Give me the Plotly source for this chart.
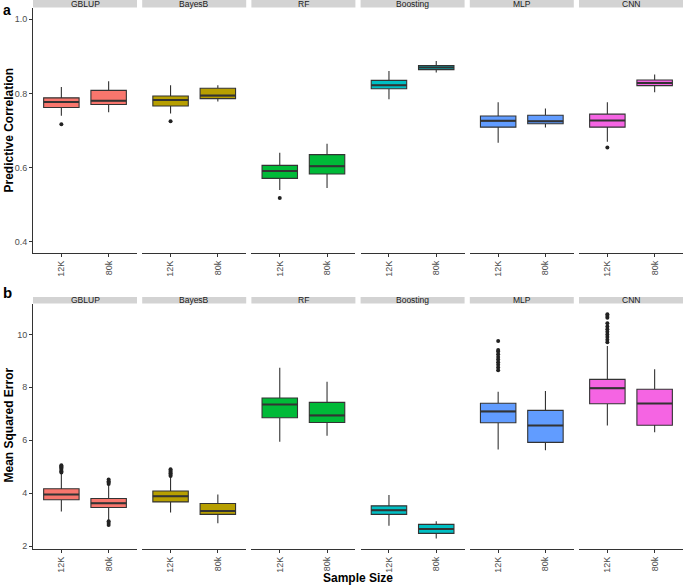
import plotly.graph_objects as go

W, H = 685, 585

methods = ["GBLUP", "BayesB", "RF", "Boosting", "MLP", "CNN"]
colors = ["#F8766D", "#B79F00", "#00BA38", "#00BFC4", "#619CFF", "#F564E3"]
sizes = ["12K", "80k"]

# Panel a: Predictive Correlation  (per method: [12K, 80k])
pc_low = [[0.740, 0.749], [0.746, 0.778], [0.540, 0.545], [0.784, 0.856], [0.667, 0.708], [0.670, 0.803]]
pc_q1 = [[0.762, 0.770], [0.766, 0.786], [0.571, 0.583], [0.8125, 0.864], [0.709, 0.718], [0.709, 0.821]]
pc_med = [[0.777, 0.780], [0.782, 0.794], [0.591, 0.604], [0.822, 0.870], [0.726, 0.725], [0.727, 0.828]]
pc_q3 = [[0.788, 0.808], [0.793, 0.814], [0.606, 0.635], [0.835, 0.875], [0.739, 0.741], [0.744, 0.836]]
pc_high = [[0.817, 0.833], [0.822, 0.822], [0.640, 0.664], [0.860, 0.887], [0.776, 0.759], [0.776, 0.851]]
pc_out = [[[0.717], []], [[0.725], []], [[0.518], []], [[], []], [[], []], [[0.654], []]]

# Panel b: Mean Squared Error
mse_low = [[3.31, 2.98], [3.27, 2.86], [5.94, 6.17], [2.77, 2.29], [5.65, 5.62], [6.56, 6.30]]
mse_q1 = [[3.75, 3.46], [3.67, 3.20], [6.85, 6.67], [3.20, 2.48], [6.66, 5.92], [7.38, 6.57]]
mse_med = [[3.95, 3.62], [3.88, 3.33], [7.35, 6.94], [3.35, 2.65], [7.09, 6.56], [7.97, 7.39]]
mse_q3 = [[4.17, 3.80], [4.08, 3.61], [7.60, 7.43], [3.52, 2.82], [7.40, 7.13], [8.30, 7.93]]
mse_high = [[4.75, 4.32], [4.62, 3.95], [8.74, 8.21], [3.93, 2.94], [7.83, 7.86], [9.56, 8.68]]
mse_out = [
    [[4.78, 4.83, 4.88, 4.93, 4.98, 5.02, 5.06], [4.35, 4.40, 4.45, 4.52, 2.94, 2.87, 2.80]],
    [[4.65, 4.70, 4.75, 4.80, 4.85, 4.90], []],
    [[], []],
    [[], []],
    [[8.65, 8.75, 8.85, 8.95, 9.05, 9.15, 9.25, 9.35, 9.41, 9.75], []],
    [[9.70, 9.80, 9.90, 10.00, 10.10, 10.20, 10.30, 10.42, 10.63, 10.70, 10.76], []],
]

pc_ticks = [0.4, 0.6, 0.8, 1.0]
pc_ticktext = ["0.4", "0.6", "0.8", "1.0"]
mse_ticks = [2, 4, 6, 8, 10]
mse_ticktext = ["2", "4", "6", "8", "10"]

FONT = "Liberation Sans, Arial, sans-serif"
LINE = "#333333"

fig = go.Figure()

# layout geometry (pixels)
left0, fw, step = 33, 104, 109.2
rows = [dict(top=8, bot=253, rng=[0.37, 1.03]), dict(top=304, bot=549, rng=[1.89, 11.15])]
data_rows = [
    (pc_low, pc_q1, pc_med, pc_q3, pc_high, pc_out, pc_ticks, pc_ticktext),
    (mse_low, mse_q1, mse_med, mse_q3, mse_high, mse_out, mse_ticks, mse_ticktext),
]

def px_x(p):
    return p / W

def px_y(p):
    return 1 - p / H

shapes = []
annotations = []
bw = 0.75
for r, (geo, dat) in enumerate(zip(rows, data_rows)):
    low, q1, med, q3, high, outs, tv, tt = dat
    for c, m in enumerate(methods):
        idx = r * 6 + c + 1
        xa = "x" if idx == 1 else f"x{idx}"
        ya = "y" if idx == 1 else f"y{idx}"
        xl = left0 + c * step
        dom_x = [px_x(xl), px_x(xl + fw)]
        dom_y = [px_y(geo["bot"]), px_y(geo["top"])]
        xkey = "xaxis" if idx == 1 else f"xaxis{idx}"
        ykey = "yaxis" if idx == 1 else f"yaxis{idx}"
        fig.layout[xkey] = dict(
            domain=dom_x, anchor=ya, range=[0.4, 2.6], tickvals=[1, 2], ticktext=sizes,
            tickangle=-90, showline=True, linecolor=LINE, linewidth=1.1, ticks="outside",
            ticklen=3, tickcolor=LINE, tickfont=dict(size=9, color="#4D4D4D", family=FONT),
            showgrid=False, zeroline=False, fixedrange=True, automargin=False,
        )
        first = c == 0
        fig.layout[ykey] = dict(
            domain=dom_y, anchor=xa, range=geo["rng"], tickvals=tv, ticktext=tt,
            showticklabels=first, showline=first, linecolor=LINE, linewidth=1.1,
            ticks="outside" if first else "", ticklen=3, tickcolor=LINE,
            tickfont=dict(size=9, color="#4D4D4D", family=FONT),
            showgrid=False, zeroline=False, fixedrange=True, automargin=False,
        )
        for k in range(2):
            xpos = k + 1
            fig.add_trace(go.Box(
                x=[xpos], q1=[q1[c][k]], median=[med[c][k]], q3=[q3[c][k]],
                lowerfence=[low[c][k]], upperfence=[high[c][k]],
                width=bw, whiskerwidth=0, fillcolor=colors[c],
                line=dict(color=LINE, width=1.1), xaxis=xa, yaxis=ya,
                showlegend=False, hoverinfo="skip",
            ))
            # thicker median line (ggplot fatten)
            fig.add_trace(go.Scatter(
                x=[xpos - bw / 2, xpos + bw / 2], y=[med[c][k], med[c][k]], mode="lines",
                line=dict(color=LINE, width=2.0), xaxis=xa, yaxis=ya,
                showlegend=False, hoverinfo="skip",
            ))
            if outs[c][k]:
                fig.add_trace(go.Scatter(
                    x=[xpos] * len(outs[c][k]), y=outs[c][k], mode="markers",
                    marker=dict(color="#222222", size=4), xaxis=xa, yaxis=ya,
                    showlegend=False, hoverinfo="skip",
                ))
        # strip
        st_top = geo["top"] - 14
        shapes.append(dict(type="rect", xref="paper", yref="paper",
                           x0=px_x(xl), x1=px_x(xl + fw), y0=px_y(geo["top"] - 0.5),
                           y1=px_y(st_top), fillcolor="#D3D3D3", line=dict(width=0),
                           layer="below"))
        annotations.append(dict(text=m, xref="paper", yref="paper",
                                x=px_x(xl + fw / 2), y=px_y(geo["top"] - 4),
                                showarrow=False, xanchor="center", yanchor="middle",
                                font=dict(size=8.5, color="#1A1A1A", family=FONT)))
    if r == 1:
        # white mask above the bottom strips (reference strips are cropped)
        shapes.append(dict(type="rect", xref="paper", yref="paper",
                           x0=px_x(20), x1=1, y0=px_y(297), y1=px_y(285),
                           fillcolor="white", line=dict(width=0), layer="below"))

annotations += [
    dict(text="<b>Predictive Correlation</b>", xref="paper", yref="paper",
         x=px_x(8.5), y=px_y(130), textangle=-90, showarrow=False,
         xanchor="center", yanchor="middle",
         font=dict(size=12, color="black", family=FONT)),
    dict(text="<b>Mean Squared Error</b>", xref="paper", yref="paper",
         x=px_x(8.5), y=px_y(425), textangle=-90, showarrow=False,
         xanchor="center", yanchor="middle",
         font=dict(size=12, color="black", family=FONT)),
    dict(text="<b>Sample Size</b>", xref="paper", yref="paper",
         x=px_x(358), y=px_y(578), showarrow=False,
         xanchor="center", yanchor="middle",
         font=dict(size=12, color="black", family=FONT)),
    dict(text="<b>a</b>", xref="paper", yref="paper", x=px_x(1), y=1,
         xanchor="left", yanchor="top", showarrow=False,
         font=dict(size=14, color="black", family=FONT)),
    dict(text="<b>b</b>", xref="paper", yref="paper", x=px_x(1), y=px_y(292),
         xanchor="left", yanchor="middle", showarrow=False,
         font=dict(size=15, color="black", family=FONT)),
]

fig.update_layout(
    width=W, height=H, margin=dict(l=0, r=0, t=0, b=0),
    paper_bgcolor="white", plot_bgcolor="white",
    shapes=shapes, annotations=annotations, showlegend=False,
    font=dict(family=FONT),
)

fig.write_html(
    "out.html",
    config={"displayModeBar": False},
    post_script="document.body.style.margin='0';document.body.style.overflow='hidden';",
)
